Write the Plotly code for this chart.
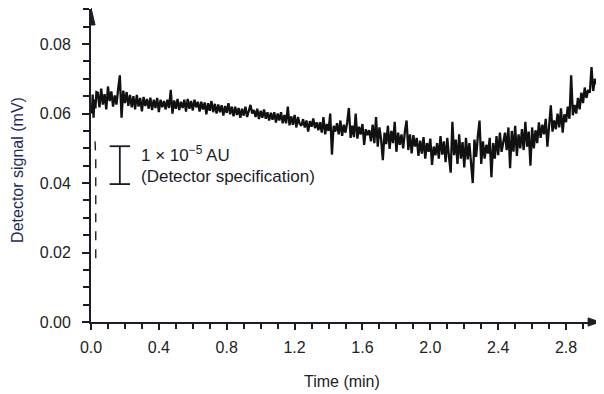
import plotly.graph_objects as go

# ---- data ----
# short dip right after injection (thin broken line in the reference)
t_dip = [0.024, 0.028, 0.028]
s_dip = [0.0520, 0.0470, 0.0170]

t_start = [0.005, 0.010, 0.015, 0.020, 0.026, 0.032]
s_start = [0.0600, 0.0655, 0.0588, 0.0640, 0.0615, 0.0662]

signal_main = [
    0.0660, 0.0618, 0.0672, 0.0626, 0.0656, 0.0612, 0.0678, 0.0636, 0.0664, 0.0620,
    0.0652, 0.0626, 0.0670, 0.0710, 0.0588, 0.0666, 0.0630, 0.0662, 0.0622, 0.0654,
    0.0618, 0.0650, 0.0612, 0.0654, 0.0620, 0.0645, 0.0606, 0.0648, 0.0622, 0.0642,
    0.0614, 0.0646, 0.0610, 0.0640, 0.0616, 0.0645, 0.0604, 0.0640, 0.0618, 0.0636,
    0.0612, 0.0640, 0.0616, 0.0668, 0.0600, 0.0638, 0.0614, 0.0642, 0.0610, 0.0634,
    0.0616, 0.0640, 0.0606, 0.0642, 0.0614, 0.0636, 0.0609, 0.0640, 0.0618, 0.0634,
    0.0606, 0.0634, 0.0612, 0.0632, 0.0598, 0.0630, 0.0608, 0.0636, 0.0604, 0.0628,
    0.0600, 0.0626, 0.0604, 0.0624, 0.0594, 0.0622, 0.0602, 0.0630, 0.0598, 0.0620,
    0.0592, 0.0620, 0.0596, 0.0616, 0.0588, 0.0614, 0.0594, 0.0620, 0.0590, 0.0612,
    0.0625, 0.0600, 0.0610, 0.0590, 0.0614, 0.0584, 0.0608, 0.0588, 0.0612, 0.0585,
    0.0604, 0.0580, 0.0602, 0.0582, 0.0604, 0.0574, 0.0600, 0.0580, 0.0604, 0.0572,
    0.0596, 0.0572, 0.0620, 0.0566, 0.0592, 0.0568, 0.0596, 0.0560, 0.0590, 0.0570,
    0.0565, 0.0584, 0.0560, 0.0580, 0.0548, 0.0578, 0.0562, 0.0586, 0.0558, 0.0575,
    0.0552, 0.0575, 0.0545, 0.0590, 0.0540, 0.0570, 0.0550, 0.0600, 0.0482, 0.0565,
    0.0548, 0.0572, 0.0540, 0.0580, 0.0536, 0.0568, 0.0545, 0.0575, 0.0616, 0.0530,
    0.0565, 0.0532, 0.0600, 0.0528, 0.0562, 0.0540, 0.0570, 0.0510, 0.0555, 0.0538,
    0.0552, 0.0520, 0.0568, 0.0515, 0.0590, 0.0505, 0.0560, 0.0525, 0.0466, 0.0545,
    0.0512, 0.0565, 0.0498, 0.0550, 0.0515, 0.0576, 0.0490, 0.0545, 0.0510, 0.0540,
    0.0500, 0.0548, 0.0580, 0.0495, 0.0540, 0.0485, 0.0538, 0.0505, 0.0530, 0.0478,
    0.0522, 0.0485, 0.0532, 0.0470, 0.0515, 0.0490, 0.0528, 0.0452, 0.0505, 0.0480,
    0.0515, 0.0470, 0.0535, 0.0482, 0.0520, 0.0460, 0.0530, 0.0475, 0.0430, 0.0576,
    0.0480, 0.0525, 0.0455, 0.0540, 0.0470, 0.0518, 0.0445, 0.0530, 0.0468, 0.0515,
    0.0460, 0.0400, 0.0525, 0.0475, 0.0535, 0.0580, 0.0455, 0.0520, 0.0470, 0.0510,
    0.0485, 0.0530, 0.0417, 0.0515, 0.0470, 0.0535, 0.0480, 0.0545, 0.0490, 0.0520,
    0.0545, 0.0495, 0.0560, 0.0443, 0.0550, 0.0490, 0.0565, 0.0478, 0.0540, 0.0500,
    0.0555, 0.0495, 0.0576, 0.0505, 0.0548, 0.0450, 0.0560, 0.0500, 0.0552, 0.0515,
    0.0575, 0.0530, 0.0568, 0.0540, 0.0585, 0.0505, 0.0560, 0.0624, 0.0548, 0.0580,
    0.0555, 0.0600, 0.0560, 0.0615, 0.0545, 0.0598, 0.0575, 0.0620, 0.0585, 0.0710,
    0.0595, 0.0625, 0.0600, 0.0645, 0.0612, 0.0660, 0.0630, 0.0675, 0.0645, 0.0668,
    0.0660, 0.0734, 0.0665, 0.0700, 0.0685,
]
t_step = 0.01
t_main_first = 0.04

x_tick_vals = [0.0, 0.4, 0.8, 1.2, 1.6, 2.0, 2.4, 2.8]
x_tick_text = ["0.0", "0.4", "0.8", "1.2", "1.6", "2.0", "2.4", "2.8"]
y_tick_vals = [0.00, 0.02, 0.04, 0.06, 0.08]
y_tick_text = ["0.00", "0.02", "0.04", "0.06", "0.08"]

spec_top = 0.0506      # detector specification bracket (1e-5 AU)
spec_bottom = 0.0397
spec_x = 0.17
spec_half = 0.06

# ---- build ----
t_main = [round(t_main_first + i * t_step, 3) for i in range(len(signal_main))]
t_all = t_start + t_main
s_all = s_start + signal_main

FONT = "Liberation Sans, Arial, Helvetica, sans-serif"
INK = "#1c1c28"

fig = go.Figure()
fig.add_trace(go.Scatter(x=t_dip, y=s_dip, mode="lines",
                         line=dict(color="#222222", width=1.4, dash="dash"),
                         showlegend=False, hoverinfo="skip"))
fig.add_trace(go.Scatter(x=t_all, y=s_all, mode="lines",
                         line=dict(color="#111111", width=2.3), showlegend=False))

# spec bracket
fig.add_shape(type="line", x0=spec_x, x1=spec_x, y0=spec_bottom, y1=spec_top,
              line=dict(color=INK, width=1.8))
for yy in (spec_top, spec_bottom):
    fig.add_shape(type="line", x0=spec_x - spec_half, x1=spec_x + spec_half, y0=yy, y1=yy,
                  line=dict(color=INK, width=1.8))

fig.add_annotation(x=0.28, y=0.0485, xref="x", yref="y", xanchor="left", yanchor="middle",
                   text="1 × 10<sup>−5</sup> AU", showarrow=False,
                   font=dict(family=FONT, size=17, color=INK))
fig.add_annotation(x=0.28, y=0.0420, xref="x", yref="y", xanchor="left", yanchor="middle",
                   text="(Detector specification)", showarrow=False,
                   font=dict(family=FONT, size=17, color=INK))

# axis titles
fig.add_annotation(x=-0.1434, y=0.486, xref="paper", yref="paper", textangle=-90,
                   xanchor="center", yanchor="middle", showarrow=False,
                   text="Detector signal (mV)",
                   font=dict(family=FONT, size=16, color="#1f2a5c"))
fig.add_annotation(x=0.493, y=-0.1885, xref="paper", yref="paper",
                   xanchor="center", yanchor="middle", showarrow=False,
                   text="Time (min)", font=dict(family=FONT, size=16, color="#222222"))

# axis arrowheads (filled triangles)
fig.add_shape(type="path", xref="x", yref="paper",
              path="M -0.024,0.949 L 0,1.004 L 0.024,0.949 Z",
              fillcolor=INK, line=dict(color=INK, width=1))
fig.add_shape(type="path", xref="x", yref="paper",
              path="M 2.93,0.013 L 3.0,0 L 2.93,-0.013 Z",
              fillcolor=INK, line=dict(color=INK, width=1))

fig.update_layout(
    width=596, height=386, autosize=False,
    margin=dict(l=83, r=4, t=1, b=72, autoexpand=False),
    paper_bgcolor="white", plot_bgcolor="white",
    font=dict(family=FONT, size=16, color="#222222"),
    xaxis=dict(range=[0, 3.0], tickvals=x_tick_vals, ticktext=x_tick_text,
               showgrid=False, zeroline=False, showline=True, linecolor=INK, linewidth=1.8,
               ticks="outside", ticklen=6, tickwidth=1.6, tickcolor=INK,
               ticklabelstandoff=4, automargin=False,
               minor=dict(dtick=0.1, ticks="outside", ticklen=5, tickwidth=1.6, tickcolor=INK)),
    yaxis=dict(range=[0, 0.0901], tickvals=y_tick_vals, ticktext=y_tick_text,
               showgrid=False, zeroline=False, showline=True, linecolor=INK, linewidth=1.8,
               ticks="outside", ticklen=7, tickwidth=1.6, tickcolor=INK,
               ticklabelstandoff=8, automargin=False,
               minor=dict(dtick=0.005, ticks="outside", ticklen=6, tickwidth=1.6, tickcolor=INK)),
)

fig.write_html("out.html")
